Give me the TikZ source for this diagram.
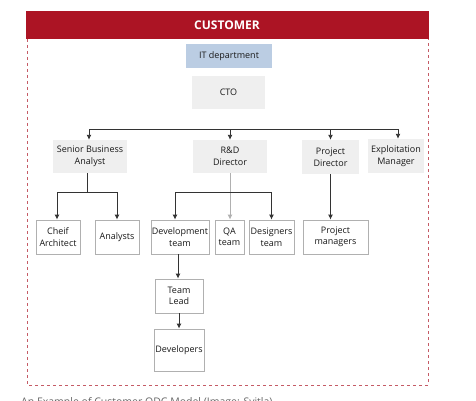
\documentclass[tikz,border=0pt]{standalone}
\usepackage{fontspec}
\setmainfont{Open Sans}
\usetikzlibrary{arrows.meta}
\definecolor{custred}{HTML}{AC1424}
\definecolor{itblue}{HTML}{BBCDE3}
\definecolor{boxgrey}{HTML}{EFEFEF}
\definecolor{edgegrey}{HTML}{B0B0B0}
\definecolor{linegrey}{HTML}{333333}
\begin{document}
\begin{tikzpicture}[x=1pt, y=-1pt,
    every node/.style={font=\fontsize{9}{11.5}\selectfont, align=center, inner sep=0pt, text=black!90},
    head/.style={fill=boxgrey, minimum height=33pt},
    unit/.style={draw=edgegrey, fill=white, line width=0.8pt, minimum height=34pt},
    link/.style={draw=linegrey, line width=0.9pt},
    arr/.style={link, -{Latex[length=5pt,width=5pt]}}]
    \useasboundingbox (0,0) rectangle (476,401);
    \fill[custred] (26,11) rectangle (429,39);
    \node[text=white, font=\fontsize{12}{14}\selectfont\bfseries] (cust) at (227,25) {CUSTOMER};
    \draw[custred!70, dashed, line width=0.7pt] (27,39) -- (27,385) -- (428,385) -- (428,39);
    \node[fill=itblue, minimum width=86pt, minimum height=24pt] (it) at (229,56) {IT department};
    \node[head, minimum width=73pt] (cto) at (228.5,92.5) {CTO};
    \node[head, minimum width=74pt] (sba) at (90,156.5) {Senior Business\\Analyst};
    \node[head, minimum width=74pt] (rnd) at (230,156.5) {R\&D\\Director};
    \node[head, minimum width=57pt, minimum height=34pt] (pd) at (330.5,157) {Project\\Director};
    \node[head, minimum width=56pt, minimum height=34pt] (em) at (396,156) {Exploitation\\Manager};
    \node[unit, minimum width=44pt] (ca) at (58,237) {Cheif\\Architect};
    \node[unit, minimum width=44pt] (an) at (117,237) {Analysts};
    \node[unit, minimum width=58pt] (dev) at (180,237) {Development\\team};
    \node[unit, minimum width=29pt] (qa) at (229.5,237) {QA\\team};
    \node[unit, minimum width=45pt] (des) at (271.5,237) {Designers\\team};
    \node[unit, minimum width=65pt] (pm) at (335.5,237) {Project\\managers};
    \node[unit, minimum width=48pt] (tl) at (179,296) {Team\\Lead};
    \node[unit, minimum width=50pt, minimum height=42pt] (devs) at (179,350) {Developers};
    \coordinate (busl) at (89,129);
    \coordinate (busr) at (398,129);
    \draw[link] (busl) -- (busr);
    \draw[arr] (busl) -- (sba.north -| busl);
    \draw[arr] (rnd.north |- busl) -- (rnd.north);
    \draw[arr] (pd.north |- busl) -- (pd.north);
    \draw[arr] (busr) -- (em.north -| busr);
    \draw[link] ([xshift=-3pt]sba.south) -- ++(0,19) coordinate (sbaj);
    \draw[arr] (sbaj) -| ([xshift=-1pt]ca.north);
    \draw[arr] (sbaj) -| (an.north);
    \draw[arr, draw=edgegrey] (rnd.south) -- (rnd.south |- qa.north);
    \draw[link] (rnd.south) ++(0,19) coordinate (rndj) -- ++(-55,0);
    \draw[arr] (rndj) -| ([xshift=-5pt]dev.north);
    \draw[arr] (rndj) -| (des.north);
    \draw[arr] (pd.south) -- (pd.south |- pm.north);
    \draw[arr] ([xshift=-2pt]dev.south) -- ([xshift=-1pt]tl.north);
    \draw[arr] (tl.south) -- (devs.north);
    \node[anchor=base west, font=\fontsize{10.5}{12}\selectfont, text=black!60] (cap) at (21,405) {An Example of Customer ODC Model (Image: Svitla)};
\end{tikzpicture}
\end{document}
